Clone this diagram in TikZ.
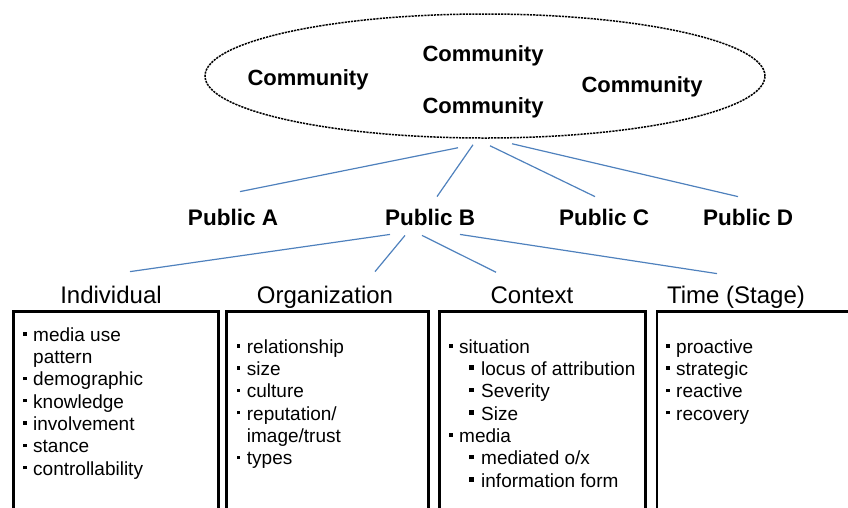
\documentclass[tikz,border=0pt]{standalone}
\usepackage{fontspec}
\setmainfont{Liberation Sans}
\usepackage{xcolor}
\usetikzlibrary{shapes.geometric}

\definecolor{linkblue}{RGB}{79,129,189}

\newcommand{\bul}{\makebox[10pt][l]{\raisebox{5.8pt}{\rule{3.4pt}{3.4pt}}}}
\newcommand{\sbul}{\hspace*{20pt}\makebox[12pt][l]{\raisebox{5.5pt}{\rule{4.8pt}{4.8pt}}}}

\begin{document}
\begin{tikzpicture}[x=1pt,y=-1pt,
  link/.style={draw=linkblue,line width=1.2pt},
  commtxt/.style={font=\fontsize{22}{26}\selectfont\bfseries,inner sep=0pt,anchor=base},
  pub/.style={font=\fontsize{22.5}{27}\selectfont\bfseries,inner sep=0pt,anchor=base},
  head/.style={font=\fontsize{24}{28}\selectfont,inner sep=0pt,anchor=base},
  catbox/.style={draw,line width=2.7pt,rectangle,anchor=north west,minimum height=230pt,inner sep=0pt},
  items/.style={font=\fontsize{19}{22.3}\selectfont,align=left,anchor=north west,inner sep=0pt}]
\clip (0,0) rectangle (848,507);

% community cloud
\node[ellipse,draw=black,line width=1.5pt,dash pattern=on 2.2pt off 1pt,
      minimum width=560pt,minimum height=124pt,inner sep=0pt] (cloud) at (485,76) {};

\node[commtxt] (comm1) at (308,85) {Community};
\node[commtxt] (comm2) at (483,61) {Community};
\node[commtxt] (comm3) at (483,113) {Community};
\node[commtxt] (comm4) at (642,92) {Community};

% publics
\node[pub] (pubA) at (233,225) {Public A};
\node[pub] (pubB) at (430,225) {Public B};
\node[pub] (pubC) at (604,225) {Public C};
\node[pub] (pubD) at (748,225) {Public D};

\draw[link] ([shift={(-27,9)}]cloud.south) -- ([shift={(7,-16.9)}]pubA.north);
\draw[link] ([shift={(-12,6)}]cloud.south) -- ([shift={(7,-11.9)}]pubB.north);
\draw[link] ([shift={(5,7)}]cloud.south) -- ([shift={(-9,-11.9)}]pubC.north);
\draw[link] ([shift={(27,5)}]cloud.south) -- ([shift={(-10,-11.9)}]pubD.north);

% factors
\node[head] (indiv) at (111,303) {Individual};
\node[head] (organ) at (325,303) {Organization};
\node[head] (contx) at (532,303) {Context};
\node[head] (stage) at (736,303) {Time (Stage)};

\draw[link] ([shift={(-40,9)}]pubB.south) -- ([shift={(19,-13.8)}]indiv.north);
\draw[link] ([shift={(-25,10)}]pubB.south) -- ([shift={(50,-13.8)}]organ.north);
\draw[link] ([shift={(-8,10)}]pubB.south) -- ([shift={(-36,-13.8)}]contx.north);
\draw[link] ([shift={(30,9)}]pubB.south) -- ([shift={(-19,-11.8)}]stage.north);

\node[catbox,minimum width=205pt] (indbox) at (12,310) {};
\node[catbox,minimum width=202pt] (orgbox) at (225,310) {};
\node[catbox,minimum width=206pt] (ctxbox) at (438,310) {};
\node[catbox,minimum width=220pt] (timebox) at (655.7,310) {};

\node[items] (indlist) at (23,327.4) {\bul media use\\ \hspace*{10pt}pattern\\ \bul demographic\\
  \bul knowledge\\ \bul involvement\\ \bul stance\\ \bul controllability};
\node[items] (orglist) at (236.7,339.4) {\bul relationship\\ \bul size\\ \bul culture\\
  \bul reputation/\\ \hspace*{10pt}image/trust\\ \bul types};
\node[items] (ctxlist) at (449,339.4) {\bul situation\\ \sbul locus of attribution\\ \sbul Severity\\
  \sbul Size\\ \bul media\\ \sbul mediated o/x\\ \sbul information form};
\node[items] (timelist) at (666,339.4) {\bul proactive\\ \bul strategic\\ \bul reactive\\ \bul recovery};

\end{tikzpicture}
\end{document}
